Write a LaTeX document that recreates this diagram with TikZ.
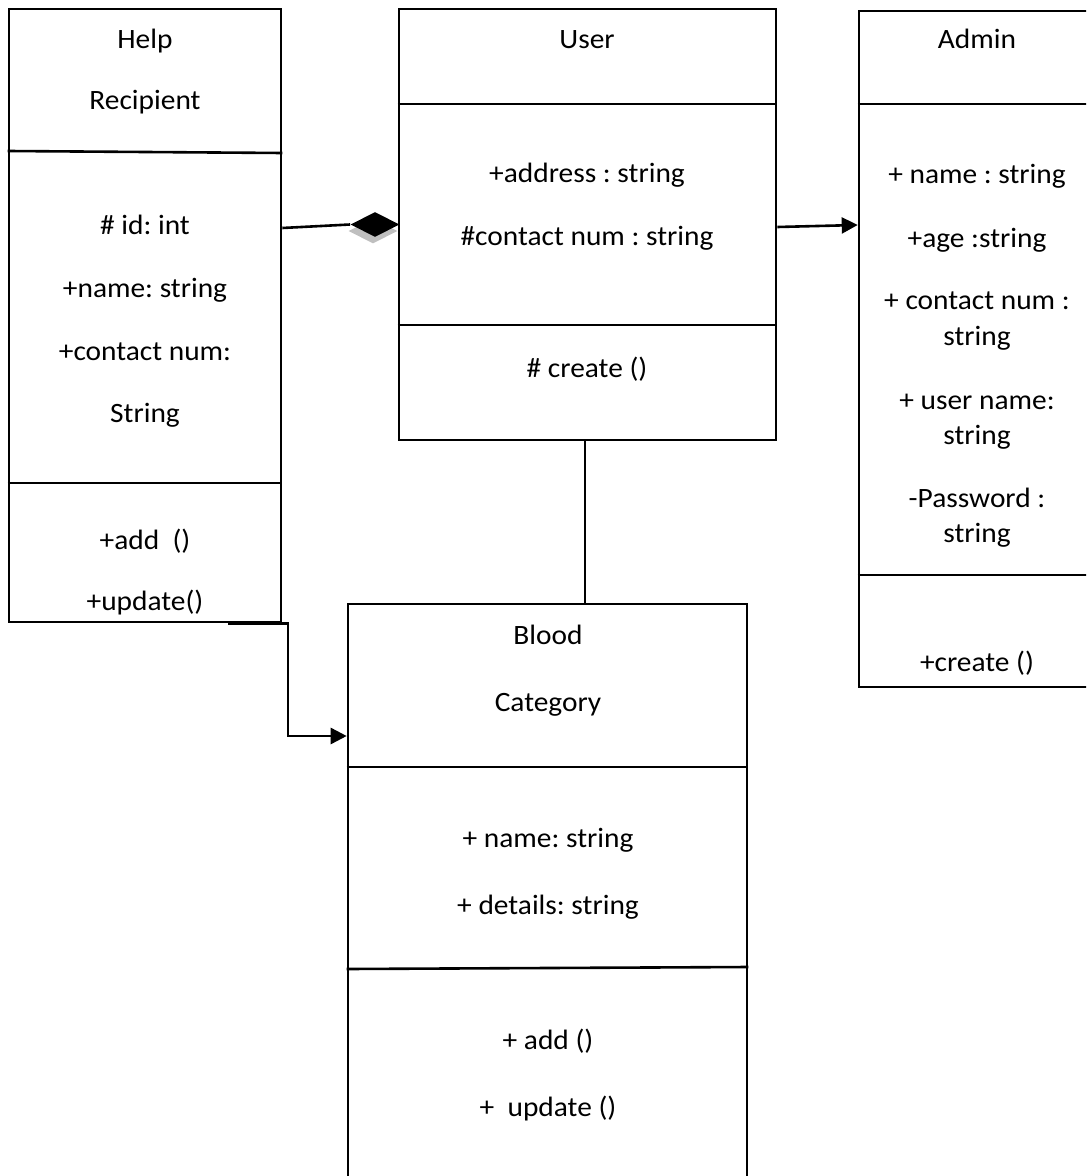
\documentclass[tikz,border=0pt]{standalone}
\usepackage{fontspec}
\setmainfont[FakeStretch=1.05]{Carlito}
\frenchspacing
\usetikzlibrary{shapes.geometric,arrows.meta}
\tikzstyle{cls}=[rectangle,draw=black,line width=1.3pt,inner sep=0pt]
\tikzstyle{txt}=[anchor=base,inner sep=0pt,font=\fontsize{14}{17}\selectfont]
\tikzstyle{sep}=[line width=1.3pt]
\tikzstyle{con}=[line width=1.3pt]

\begin{document}
\begin{tikzpicture}[x=0.5pt,y=-0.5pt]
\useasboundingbox (0,0) rectangle (1086,1176);
\clip (0,0) rectangle (1086,1176);
% class boxes
\node[cls,minimum width=136pt,minimum height=306.5pt] (help) at (145,315.5) {};
\node[cls,minimum width=188.5pt,minimum height=215.5pt] (user) at (587.5,224.5) {};
\node[cls,minimum width=125.5pt,minimum height=338pt] (admin) at (984.5,349) {};
\node[cls,minimum width=199.5pt,minimum height=298pt] (blood) at (547.5,902) {};
% compartments
\draw[sep] (help.west |- 0,151) -- (help.east |- 0,153); \draw[sep] (help.west |- 0,483) -- (help.east |- 0,483);
\draw[sep] (user.west |- 0,104) -- (user.east |- 0,104); \draw[sep] (user.west |- 0,325) -- (user.east |- 0,325);
\draw[sep] (admin.west |- 0,104) -- (admin.east |- 0,104); \draw[sep] (admin.west |- 0,575) -- (admin.east |- 0,575);
\draw[sep] (blood.west |- 0,969) -- (blood.east |- 0,967); \draw[sep] (blood.west |- 0,767) -- (blood.east |- 0,767);
% Help Recipient
\node[txt] (h1) at (145,49) {Help}; \node[txt] (h2) at (145,110) {Recipient};
\node[txt] (h3) at (145,235) {\# id: int}; \node[txt] (h4) at (145,298) {+name: string};
\node[txt] (h5) at (145,360) {+contact num:}; \node[txt] (h6) at (145,422) {String};
\node[txt] (h7) at (145,549) {+add\ \ ()}; \node[txt] (h8) at (145,610) {+update()};
% User
\node[txt] (u1) at (587,49) {User};
\node[txt] (u2) at (587,183) {+address : string}; \node[txt] (u3) at (587,246) {\#contact num : string};
\node[txt] (u4) at (587,377) {\# create ()};
% Admin
\node[txt] (a1) at (977,49) {Admin};
\node[txt] (a2) at (977,184) {+ name : string}; \node[txt] (a3) at (977,248) {+age :string};
\node[txt] (a4) at (977,310) {+ contact num :}; \node[txt] (a5) at (977,345) {string};
\node[txt] (a6) at (977,409) {+ user name:}; \node[txt] (a7) at (977,444) {string};
\node[txt] (a8) at (977,507) {-Password :}; \node[txt] (a9) at (977,542) {string};
\node[txt] (a10) at (977,671) {+create ()};
% Blood Category
\node[txt] (b1) at (548,644) {Blood}; \node[txt] (b2) at (548,711) {Category};
\node[txt] (b3) at (548,847) {+ name: string}; \node[txt] (b4) at (548,914) {+ details: string};
\node[txt] (b5) at (548,1049) {+ add ()}; \node[txt] (b6) at (548,1116) {+\ \ update ()};
% connectors
\node[diamond,fill=black!25,inner sep=0pt,minimum width=24.5pt,minimum height=12.5pt] (dsh) at (373,231) {};
\node[diamond,fill=black,inner sep=0pt,minimum width=24.5pt,minimum height=12.5pt] (dia) at (375,224.5) {};
\draw[con] (help.east |- 0,228) -- (dia.west);
\draw[con,-{Triangle[length=8pt,width=8pt]}] (user.east |- 0,227) -- (admin.west |- 0,225);
\draw[con] (user.south -| 585,0) -- (blood.north -| 585,0);
\coordinate (bend) at (288,736);
\draw[con,-{Triangle[length=8pt,width=8pt]}] (help.south -| 228,0) -| (bend) -- (blood.west |- bend);
\end{tikzpicture}
\end{document}
